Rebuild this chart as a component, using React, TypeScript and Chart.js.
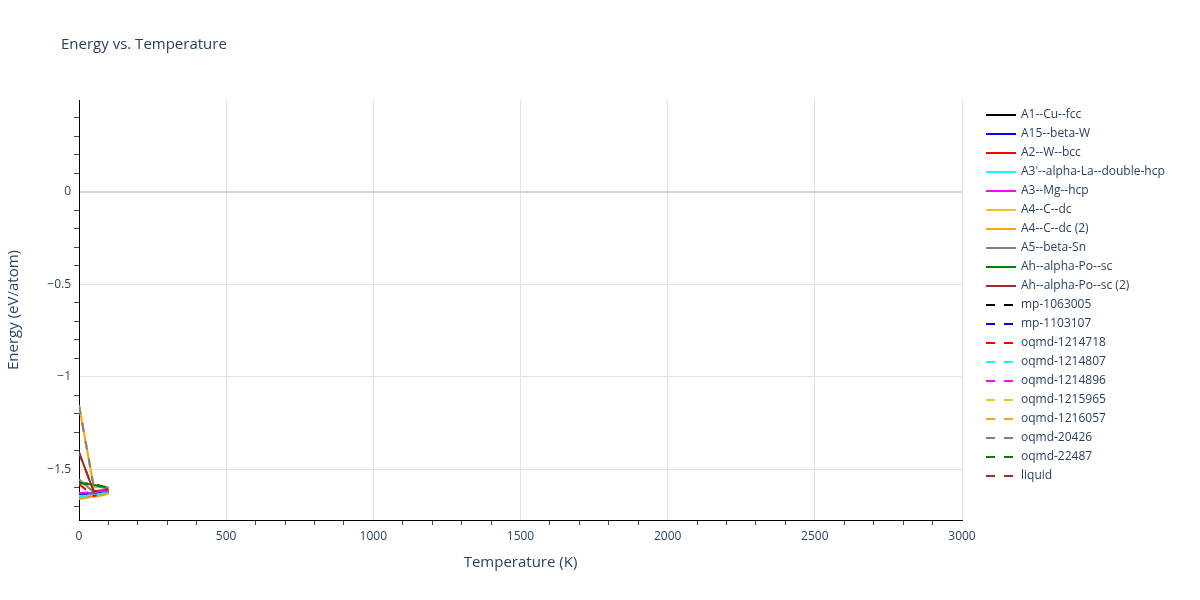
import React, { useEffect, useRef } from 'react';
import { Chart, registerables, Plugin } from 'chart.js';

Chart.register(...registerables);

// temperatures (K) where each phase was evaluated
const temperatures = [0, 50, 100];

const seriesNames = [
    'A1--Cu--fcc',
    'A15--beta-W',
    'A2--W--bcc',
    "A3'--alpha-La--double-hcp",
    'A3--Mg--hcp',
    'A4--C--dc',
    'A4--C--dc (2)',
    'A5--beta-Sn',
    'Ah--alpha-Po--sc',
    'Ah--alpha-Po--sc (2)',
    'mp-1063005',
    'mp-1103107',
    'oqmd-1214718',
    'oqmd-1214807',
    'oqmd-1214896',
    'oqmd-1215965',
    'oqmd-1216057',
    'oqmd-20426',
    'oqmd-22487',
    'liquid',
];

const seriesColors = [
    'black', 'blue', 'red', 'cyan', 'magenta', '#f0c420', 'orange', 'gray', 'green', 'brown',
    'black', 'blue', 'red', 'cyan', 'magenta', '#f0c420', 'orange', 'gray', 'green', 'brown',
];

const seriesDashed = [
    false, false, false, false, false, false, false, false, false, false,
    true, true, true, true, true, true, true, true, true, true,
];

// energy (eV/atom) at 0, 50, 100 K
const a1CuFcc = [-1.645, -1.64, -1.625];
const a15BetaW = [-1.635, -1.63, -1.62];
const a2WBcc = [-1.65, -1.645, -1.63];
const a3AlphaLa = [-1.645, -1.64, -1.625];
const a3MgHcp = [-1.63, -1.63, -1.62];
const a4CDc = [-1.66, -1.65, -1.635];
const a4CDc2 = [-1.155, -1.595, -1.6];
const a5BetaSn = [-1.555, -1.625, -1.615];
const ahAlphaPo = [-1.575, -1.585, -1.605];
const ahAlphaPo2 = [-1.41, -1.62, -1.61];
const mp1063005 = [-1.64, -1.64, -1.625];
const mp1103107 = [-1.635, -1.63, -1.62];
const oqmd1214718 = [-1.58, -1.645, -1.63];
const oqmd1214807 = [-1.645, -1.64, -1.625];
const oqmd1214896 = [-1.63, -1.625, -1.615];
const oqmd1215965 = [-1.155, -1.59, -1.6];
const oqmd1216057 = [-1.66, -1.65, -1.635];
const oqmd20426 = [-1.155, -1.595, -1.6];
const oqmd22487 = [-1.575, -1.58, -1.6];
const liquid = [-1.41, -1.62, -1.61];

const seriesValues = [
    a1CuFcc, a15BetaW, a2WBcc, a3AlphaLa, a3MgHcp, a4CDc, a4CDc2, a5BetaSn, ahAlphaPo, ahAlphaPo2,
    mp1063005, mp1103107, oqmd1214718, oqmd1214807, oqmd1214896, oqmd1215965, oqmd1216057, oqmd20426, oqmd22487, liquid,
];

const xMajorTicks = [0, 500, 1000, 1500, 2000, 2500, 3000];
const yMajorTicks = [-1.5, -1, -0.5, 0];

const FONT = '"Open Sans", "DejaVu Sans", sans-serif';
const TEXT = '#2a3f5f';

const isMajor = (v: number, majors: number[]) => majors.some(m => Math.abs(m - v) < 1e-6);
const fmt = (v: number) => (v < 0 ? '\u2212' + String(Math.abs(v)) : String(v));

// title drawn at the top-left, like the original
const titlePlugin: Plugin = {
    id: 'plotTitle',
    afterDraw(chart) {
        const ctx = chart.ctx;
        ctx.save();
        ctx.font = `15px ${FONT}`;
        ctx.fillStyle = TEXT;
        ctx.textBaseline = 'middle';
        ctx.fillText('Energy vs. Temperature', 61, 45);
        ctx.restore();
    }
};

// legend on the right with solid / dashed line samples
const sideLegend: Plugin = {
    id: 'sideLegend',
    afterDraw(chart) {
        const ctx = chart.ctx;
        const x0 = chart.chartArea.right + 24;
        const y0 = chart.chartArea.top + 15;
        ctx.save();
        ctx.font = `12px ${FONT}`;
        ctx.textBaseline = 'middle';
        chart.data.datasets.forEach((ds: any, i: number) => {
            const y = y0 + i * 19;
            ctx.strokeStyle = ds.borderColor;
            ctx.lineWidth = 2;
            ctx.setLineDash(ds.borderDash || []);
            ctx.beginPath();
            ctx.moveTo(x0, y);
            ctx.lineTo(x0 + 30, y);
            ctx.stroke();
            ctx.setLineDash([]);
            ctx.fillStyle = TEXT;
            ctx.fillText(ds.label, x0 + 35, y);
        });
        ctx.restore();
    }
};

const App: React.FC = () => {
    const canvasRef = useRef<HTMLCanvasElement>(null);
    const chartRef = useRef<Chart>();

    useEffect(() => {
        if (!canvasRef.current) return;
        const ctx = canvasRef.current.getContext('2d');
        if (!ctx) return;
        if (chartRef.current) chartRef.current.destroy();

        const datasets = seriesNames.map((name, i) => ({
            label: name,
            data: temperatures.map((t, j) => ({ x: t, y: seriesValues[i][j] })),
            borderColor: seriesColors[i],
            backgroundColor: seriesColors[i],
            borderWidth: 2,
            borderDash: seriesDashed[i] ? [9, 9] : [],
            pointRadius: 0,
            fill: false,
            tension: 0,
            order: -i,
        }));

        chartRef.current = new Chart(ctx, {
            type: 'line',
            data: { datasets },
            options: {
                animation: false,
                responsive: true,
                maintainAspectRatio: false,
                layout: { padding: { top: 100, right: 238, bottom: 0, left: 0 } },
                plugins: {
                    legend: { display: false },
                    title: { display: false },
                    tooltip: { enabled: false },
                },
                scales: {
                    x: {
                        type: 'linear',
                        min: 0,
                        max: 3000,
                        afterBuildTicks: (scale: any) => {
                            const t = [];
                            for (let v = 0; v <= 3000; v += 100) t.push({ value: v });
                            scale.ticks = t;
                        },
                        afterFit: (scale: any) => { scale.height = 80; },
                        ticks: {
                            autoSkip: false,
                            maxRotation: 0,
                            padding: 4,
                            color: TEXT,
                            font: { family: FONT, size: 12 },
                            callback: (v: any) => (isMajor(Number(v), xMajorTicks) ? fmt(Number(v)) : ''),
                        },
                        grid: {
                            color: (c: any) => (c.tick && isMajor(c.tick.value, xMajorTicks) ? '#e2e2e2' : 'rgba(0,0,0,0)'),
                            tickColor: (c: any) => (c.tick && isMajor(c.tick.value, xMajorTicks) ? 'rgba(0,0,0,0)' : '#444'),
                            tickLength: 5,
                            lineWidth: 1,
                        },
                        border: { display: true, color: '#000', width: 1 },
                        title: {
                            display: true,
                            text: 'Temperature (K)',
                            color: TEXT,
                            font: { family: FONT, size: 15 },
                            padding: { top: 0, bottom: 28 },
                        },
                    },
                    y: {
                        type: 'linear',
                        min: -1.775,
                        max: 0.495,
                        afterBuildTicks: (scale: any) => {
                            const t = [];
                            for (let k = -17; k <= 4; k++) t.push({ value: k / 10 });
                            scale.ticks = t;
                        },
                        afterFit: (scale: any) => { scale.width = 79; },
                        ticks: {
                            autoSkip: false,
                            padding: 3,
                            color: TEXT,
                            font: { family: FONT, size: 12 },
                            callback: (v: any) => (isMajor(Number(v), yMajorTicks) ? fmt(Number(v)) : ''),
                        },
                        grid: {
                            color: (c: any) => {
                                if (!c.tick || !isMajor(c.tick.value, yMajorTicks)) return 'rgba(0,0,0,0)';
                                return c.tick.value === 0 ? '#d6d6d6' : '#e2e2e2';
                            },
                            lineWidth: (c: any) => (c.tick && c.tick.value === 0 ? 2 : 1),
                            tickColor: (c: any) => (c.tick && isMajor(c.tick.value, yMajorTicks) ? 'rgba(0,0,0,0)' : '#444'),
                            tickLength: 5,
                        },
                        border: { display: true, color: '#000', width: 1 },
                        title: {
                            display: true,
                            text: 'Energy (eV/atom)',
                            color: TEXT,
                            font: { family: FONT, size: 15 },
                            padding: { top: 5, bottom: 0 },
                        },
                    },
                },
            },
            plugins: [titlePlugin, sideLegend],
        });

        return () => {
            if (chartRef.current) {
                chartRef.current.destroy();
                chartRef.current = undefined;
            }
        };
    }, []);

    return (
        <div style={{ position: 'absolute', left: 0, top: 0, width: 1200, height: 600, background: '#fff' }}>
            <canvas ref={canvasRef}></canvas>
        </div>
    );
};

export default App;
